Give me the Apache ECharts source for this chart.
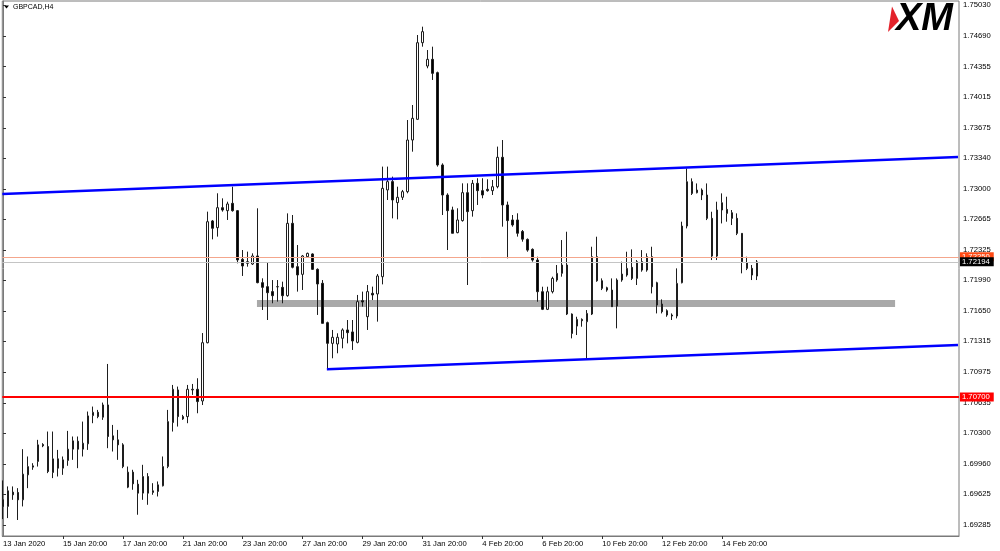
<!DOCTYPE html>
<html><head><meta charset="utf-8">
<script src="https://cdn.jsdelivr.net/npm/echarts@6/dist/echarts.min.js"></script>
<style>html,body{margin:0;padding:0;background:#fff}#c{width:1000px;height:551px}</style>
</head><body><div id="c"></div>
<script>
const symbolName = 'GBPCAD,H4';
// H4 bars, 13 Jan 2020 20:00 ... 18 Feb 2020 00:00
const open = [1.69563,1.69490,1.69648,1.69644,1.69563,1.69839,1.69924,1.69987,1.70174,1.70152,
1.69865,1.70016,1.69913,1.69998,1.70123,1.70211,1.70123,1.70182,1.70494,1.70531,
1.70476,1.70612,1.70270,1.70226,1.70171,1.69703,1.69869,1.69736,1.69637,1.69821,
1.69644,1.69655,1.69718,1.69931,1.70417,1.70778,1.70483,1.70483,1.70778,1.70785,
1.70656,1.71300,1.72646,1.72572,1.72793,1.72760,1.72841,1.72760,1.72222,1.72196,
1.72170,1.72259,1.71964,1.71920,1.71865,1.71920,1.71912,1.71820,1.72620,1.72141,
1.72056,1.72251,1.72281,1.72111,1.71957,1.71522,1.71293,1.71286,1.71349,1.71441,
1.71419,1.71304,1.71765,1.71588,1.71846,1.71839,1.72030,1.72989,1.73081,1.72849,
1.72908,1.72970,1.73541,1.73770,1.74617,1.74359,1.74433,1.74286,1.73265,1.72933,
1.72768,1.72517,1.72650,1.72959,1.72760,1.73062,1.72981,1.72996,1.72981,1.73025,
1.73350,1.72823,1.72657,1.72657,1.72530,1.72442,1.72332,1.72214,1.71864,1.71669,
1.71864,1.71993,1.72067,1.72159,1.71617,1.71484,1.71558,1.71532,1.71617,1.72251,
1.71985,1.71908,1.71882,1.71705,1.71993,1.72048,1.72133,1.72011,1.72196,1.72103,
1.72251,1.71963,1.71728,1.71654,1.71606,1.71595,1.71963,1.72590,1.73080,1.72958,
1.72988,1.72933,1.72675,1.72258,1.72767,1.72774,1.72737,1.72675,1.72509,1.72184,
1.72122,1.72037];
const high = [1.69777,1.69711,1.69711,1.69692,1.70123,1.70042,1.69968,1.70226,1.70189,1.70318,
1.70318,1.70115,1.70042,1.70325,1.70263,1.70263,1.70428,1.70539,1.70594,1.70557,
1.70638,1.71065,1.70391,1.70336,1.70189,1.69931,1.69895,1.69784,1.69950,1.69858,
1.69747,1.69766,1.70042,1.70557,1.70833,1.70815,1.70502,1.70833,1.70844,1.70907,
1.71407,1.72749,1.72657,1.72952,1.72896,1.72859,1.73025,1.72767,1.72325,1.72307,
1.72288,1.72786,1.72012,1.72185,1.71993,1.71993,1.71975,1.72730,1.72712,1.72380,
1.72270,1.72296,1.72288,1.72122,1.71993,1.71533,1.71441,1.71404,1.71459,1.71551,
1.71551,1.71828,1.71865,1.71938,1.71920,1.72060,1.73247,1.73247,1.73136,1.73025,
1.72989,1.73762,1.73928,1.74702,1.74794,1.74536,1.74573,1.74297,1.73283,1.72952,
1.72804,1.72786,1.73062,1.73062,1.73099,1.73118,1.73118,1.73107,1.73099,1.73468,
1.73541,1.72860,1.72712,1.72731,1.72546,1.72453,1.72343,1.72251,1.71919,1.71919,
1.72030,1.72159,1.72435,1.72527,1.71624,1.71587,1.71569,1.71661,1.72361,1.72472,
1.72011,1.71919,1.72011,1.72011,1.72196,1.72306,1.72332,1.72214,1.72324,1.72288,
1.72361,1.71974,1.71779,1.71669,1.71624,1.72122,1.72638,1.73227,1.73117,1.73061,
1.73006,1.73061,1.72748,1.72859,1.72951,1.72914,1.72767,1.72730,1.72509,1.72251,
1.72159,1.72214];
const low = [1.69350,1.69361,1.69563,1.69340,1.69490,1.69692,1.69895,1.69931,1.70145,1.69858,
1.69803,1.69821,1.69839,1.69939,1.70005,1.69913,1.70042,1.70115,1.70410,1.70465,
1.70447,1.70134,1.70097,1.70005,1.69913,1.69692,1.69674,1.69398,1.69563,1.69508,
1.69619,1.69600,1.69711,1.69913,1.70318,1.70373,1.70447,1.70410,1.70723,1.70520,
1.70611,1.71293,1.72443,1.72473,1.72749,1.72657,1.72749,1.72178,1.72038,1.72141,
1.72159,1.71957,1.71662,1.71551,1.71736,1.71754,1.71736,1.71809,1.72122,1.71865,
1.71883,1.72244,1.72104,1.71607,1.71514,1.71006,1.71128,1.71183,1.71238,1.71293,
1.71220,1.71293,1.71699,1.71441,1.71772,1.71533,1.71945,1.72878,1.72675,1.72664,
1.72878,1.72952,1.73412,1.73762,1.74573,1.74334,1.74205,1.73247,1.72712,1.72325,
1.72510,1.72510,1.72639,1.71938,1.72694,1.72823,1.72897,1.72970,1.72933,1.73007,
1.72583,1.72233,1.72583,1.72473,1.72417,1.72306,1.72196,1.71753,1.71661,1.71661,
1.71845,1.71974,1.72030,1.71606,1.71348,1.71385,1.71477,1.71127,1.71606,1.71974,
1.71882,1.71864,1.71698,1.71459,1.71974,1.72030,1.71993,1.71938,1.72085,1.72085,
1.71845,1.71624,1.71624,1.71587,1.71551,1.71569,1.71956,1.72564,1.72933,1.72951,
1.72877,1.72656,1.72214,1.72214,1.72619,1.72638,1.72601,1.72490,1.72067,1.72103,
1.71993,1.71993];
const close = [1.69490,1.69663,1.69619,1.69563,1.69847,1.69931,1.69939,1.70171,1.70160,1.69876,
1.70016,1.69913,1.70005,1.70123,1.70215,1.70123,1.70189,1.70491,1.70531,1.70483,
1.70612,1.70263,1.70226,1.70171,1.69931,1.69869,1.69740,1.69637,1.69821,1.69637,
1.69663,1.69729,1.69931,1.70428,1.70785,1.70483,1.70458,1.70785,1.70785,1.70649,
1.71300,1.72638,1.72565,1.72793,1.72767,1.72834,1.72760,1.72215,1.72148,1.72178,
1.72259,1.71964,1.71912,1.71853,1.71820,1.71918,1.71820,1.72620,1.72134,1.72049,
1.72259,1.72288,1.72111,1.71949,1.71514,1.71293,1.71360,1.71360,1.71441,1.71411,
1.71319,1.71754,1.71750,1.71865,1.71828,1.72038,1.73007,1.73081,1.72878,1.72908,
1.72970,1.73541,1.73781,1.74617,1.74739,1.74433,1.74278,1.73265,1.72933,1.72760,
1.72510,1.72657,1.72959,1.72749,1.73062,1.72981,1.72933,1.72981,1.73025,1.73350,
1.72823,1.72650,1.72602,1.72510,1.72445,1.72324,1.72214,1.71864,1.71669,1.71864,
1.72011,1.72067,1.72159,1.71617,1.71403,1.71558,1.71543,1.71624,1.72251,1.71985,
1.71901,1.71882,1.71698,1.71993,1.72059,1.72122,1.72011,1.72196,1.72103,1.72251,
1.71919,1.71716,1.71643,1.71606,1.71595,1.71956,1.72590,1.73080,1.72951,1.72988,
1.72933,1.72675,1.72258,1.72767,1.72848,1.72730,1.72675,1.72509,1.72196,1.72122,
1.72048,1.72194];
const xTickIndex = [0,12,24,36,48,60,72,84,96,108,120,132,144];
const xTickLabels = ['13 Jan 2020','15 Jan 20:00','17 Jan 20:00','21 Jan 20:00','23 Jan 20:00','27 Jan 20:00','29 Jan 20:00','31 Jan 20:00','4 Feb 20:00','6 Feb 20:00','10 Feb 20:00','12 Feb 20:00','14 Feb 20:00'];
const yTickValues = [1.75030,1.74690,1.74355,1.74015,1.73675,1.73340,1.73000,1.72665,1.72325,1.71990,1.71650,1.71315,1.70975,1.70635,1.70300,1.69960,1.69625,1.69285];
const bidPrice = 1.72194;
const askPrice = 1.72250;
const supportLevel = 1.70700;
const channelUpper = [[-0.13, 1.72944], [191.26, 1.73353]];
const channelLower = [[64.86, 1.71006], [191.26, 1.71275]];
const zoneBand = [[50.86, 1.71772], [178.66, 1.71694]];

const X_MIN = -0.14, X_MAX = 191.46;
const candles = open.map((o, i) => [i, o, close[i], low[i], high[i]]);
const FONT = 'Liberation Sans';
const boxLabel = (txt, bg) => ({show: true, position: 'end', distance: 1, formatter: txt,
  color: '#fff', backgroundColor: bg, padding: [1, 4, 0, 2], fontSize: 7.7, fontFamily: FONT});
const hLine = (price, style, label) => [
  {coord: [X_MIN + 0.01, price], lineStyle: style, label: label},
  {coord: [X_MAX - 0.01, price]}
];

const chart = echarts.init(document.getElementById('c'), null, {renderer: 'canvas'});
chart.setOption({
  animation: false,
  backgroundColor: '#fff',
  grid: {left: 1, right: 41, top: 1, bottom: 15, show: true, borderColor: '#7a7a7a', borderWidth: 1, backgroundColor: 'transparent'},
  xAxis: {
    type: 'value', min: X_MIN, max: X_MAX,
    axisLine: {show: true, onZero: false, lineStyle: {color: '#7a7a7a'}},
    axisTick: {show: true, length: 3, customValues: xTickIndex.slice(1), lineStyle: {color: '#333'}},
    axisLabel: {customValues: xTickIndex, align: 'left', margin: 4, fontSize: 7.7, fontFamily: FONT, color: '#000',
      formatter: v => { const k = xTickIndex.indexOf(Math.round(v)); return k >= 0 ? xTickLabels[k] : ''; }},
    splitLine: {show: false}
  },
  yAxis: {
    type: 'value', position: 'right', min: 1.69163, max: 1.75078,
    axisLine: {show: true, lineStyle: {color: '#7a7a7a'}},
    axisTick: {show: true, length: 3, customValues: yTickValues, lineStyle: {color: '#333'}},
    axisLabel: {customValues: yTickValues, margin: 4, fontSize: 7.7, fontFamily: FONT, color: '#000',
      formatter: v => v.toFixed(5)},
    splitLine: {show: false}
  },
  graphic: [
    {type: 'polygon', shape: {points: [[4, 5.5], [9, 5.5], [6.5, 8.5]]}, style: {fill: '#000'}},
    {type: 'text', x: 13, y: 7, style: {text: symbolName, font: '7px ' + FONT, fill: '#000', align: 'left', verticalAlign: 'middle'}},
    {type: 'polygon', shape: {points: [[892, 6.5], [888, 32], [899, 21]]}, style: {fill: '#e3222b'}},
    {type: 'text', x: 896, y: 19.5, style: {text: 'XM', font: 'italic 900 38px ' + FONT, fill: '#000', align: 'left', verticalAlign: 'middle'}}
  ],
  series: [{
    type: 'candlestick',
    data: candles,
    barWidth: 2,
    clip: false,
    itemStyle: {color: '#fff', color0: '#000', borderColor: '#1e1e1e', borderColor0: '#1e1e1e', borderColorDoji: '#1e1e1e', borderWidth: 1},
    markArea: {
      silent: true,
      itemStyle: {color: '#a9a9a9'},
      data: [[{coord: zoneBand[0]}, {coord: zoneBand[1]}]]
    },
    markLine: {
      silent: true,
      symbol: ['none', 'none'],
      animation: false,
      label: {show: false},
      data: [
        hLine(askPrice, {color: '#f4a68c', width: 1, type: 'solid'}, boxLabel(askPrice.toFixed(5), '#ff4a14')),
        hLine(bidPrice, {color: '#c4c4c4', width: 1, type: 'solid'}, boxLabel(bidPrice.toFixed(5), '#000')),
        hLine(supportLevel, {color: '#ff0000', width: 2, type: 'solid'}, boxLabel(supportLevel.toFixed(5), '#ff0000')),
        [{coord: channelUpper[0], lineStyle: {color: '#0000ff', width: 2.5, type: 'solid'}, label: {show: false}}, {coord: channelUpper[1]}],
        [{coord: channelLower[0], lineStyle: {color: '#0000ff', width: 2.5, type: 'solid'}, label: {show: false}}, {coord: channelLower[1]}]
      ]
    }
  }]
});
</script></body></html>
